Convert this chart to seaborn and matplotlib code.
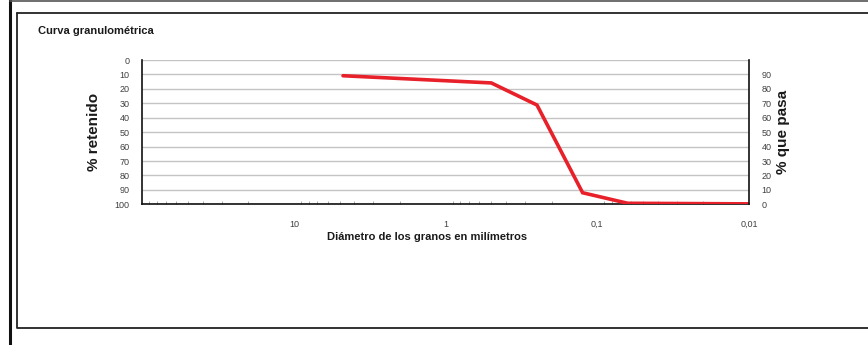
"""Curva granulométrica: % retenido / % que pasa vs diámetro de grano."""

import matplotlib.pyplot as plt
import matplotlib.ticker as mticker
import pandas as pd
import seaborn as sns
from matplotlib.lines import Line2D

# diámetros de tamiz (mm) y porcentaje que pasa
DIAMETROS = [4.75, 0.5, 0.25, 0.125, 0.063, 0.01]
PASA = [89.1, 84.1, 68.8, 8.0, 0.7, 0.3]

X_TICKS = [10, 1, 0.1, 0.01]
X_TICK_LABELS = ["10", "1", "0,1", "0,01"]
RET_TICKS = list(range(0, 101, 10))
PASA_TICKS = list(range(0, 91, 10))

TEXT_GRAY = "#404040"


def main() -> None:
    data = pd.DataFrame({"diametro": DIAMETROS, "pasa": PASA})

    sns.set_style("white")
    plt.rcParams["font.family"] = ["Liberation Sans", "DejaVu Sans"]

    fig = plt.figure(figsize=(8.68, 3.45), dpi=100)
    ax = fig.add_axes([142.3 / 868, 1 - 204.3 / 345, (749 - 142.3) / 868, (204.3 - 60) / 345])
    ax.set_xscale("log")

    # right axis: % que pasa (the curve lives here)
    ax2 = ax.twinx()
    sns.lineplot(data=data, x="diametro", y="pasa", ax=ax2, color="#e8202a",
                 linewidth=2.6, solid_joinstyle="miter")
    ax2.set_ylim(0, 100)
    ax2.set_yticks(PASA_TICKS)
    ax2.grid(False)
    ax2.tick_params(axis="y", length=0, pad=9, labelsize=6.5, labelcolor=TEXT_GRAY)
    ax2.set_ylabel("% que pasa", fontsize=11, fontweight="bold", color="#1a1a1a",
                   rotation=90)
    ax2.yaxis.set_label_coords(1.045, 0.5)
    for side in ("top", "left", "bottom"):
        ax2.spines[side].set_visible(False)
    ax2.spines["right"].set_color("#111111")
    ax2.spines["right"].set_linewidth(1.2)

    # left axis: % retenido (inverted), x axis setup after the twin plot
    ax.set_xlim(100, 0.01)
    ax.set_ylim(100, 0)
    ax.set_yticks(RET_TICKS)
    ax.yaxis.grid(True, color="#c4c4c4", linewidth=1.0)
    ax.xaxis.grid(False)
    ax.tick_params(axis="y", length=0, pad=9, labelsize=6.5, labelcolor=TEXT_GRAY)
    ax.xaxis.set_major_locator(mticker.FixedLocator(X_TICKS))
    ax.xaxis.set_major_formatter(mticker.FixedFormatter(X_TICK_LABELS))
    ax.xaxis.set_minor_locator(mticker.LogLocator(base=10, subs=range(2, 10)))
    ax.xaxis.set_minor_formatter(mticker.NullFormatter())
    ax.tick_params(axis="x", which="major", direction="inout", length=5, width=0.6,
                   color="#9a9a9a", pad=9, labelsize=6.5, labelcolor=TEXT_GRAY)
    ax.tick_params(axis="x", which="minor", direction="in", length=2.5, width=0.6,
                   color="#9a9a9a", bottom=True)
    ax.set_ylabel("% retenido", fontsize=11, fontweight="bold", color="#1a1a1a")
    ax.yaxis.set_label_coords(-0.068, 0.5)
    ax.set_xlabel("Diámetro de los granos en milímetros", fontsize=8,
                  fontweight="bold", color="#1a1a1a")
    ax.xaxis.set_label_coords(0.469, -0.19)
    ax2.set_xlabel("")

    for side in ("top", "right"):
        ax.spines[side].set_visible(False)
    for side in ("left", "bottom"):
        ax.spines[side].set_color("#111111")
        ax.spines[side].set_linewidth(1.2)

    fig.text(38 / 868, 1 - 31 / 345, "Curva granulométrica", fontsize=8,
             fontweight="bold", color="#1a1a1a", va="center", ha="left")

    # sheet borders
    w, h = 868, 345
    fig.add_artist(Line2D([10 / w, 10 / w], [0, 1], color="#111111", linewidth=2.2,
                          transform=fig.transFigure))
    fig.add_artist(Line2D([10 / w, 1], [1 - 1 / h, 1 - 1 / h], color="#555555",
                          linewidth=1.2, transform=fig.transFigure))
    fig.add_artist(Line2D([17 / w, 17 / w, 1], [1 - 13 / h, 1 - 328 / h, 1 - 328 / h],
                          color="#222222", linewidth=1.3, transform=fig.transFigure))
    fig.add_artist(Line2D([17 / w, 1], [1 - 13 / h, 1 - 13 / h],
                          color="#222222", linewidth=1.3, transform=fig.transFigure))

    fig.savefig("out.png", dpi=100)
    plt.close(fig)


if __name__ == "__main__":
    main()
